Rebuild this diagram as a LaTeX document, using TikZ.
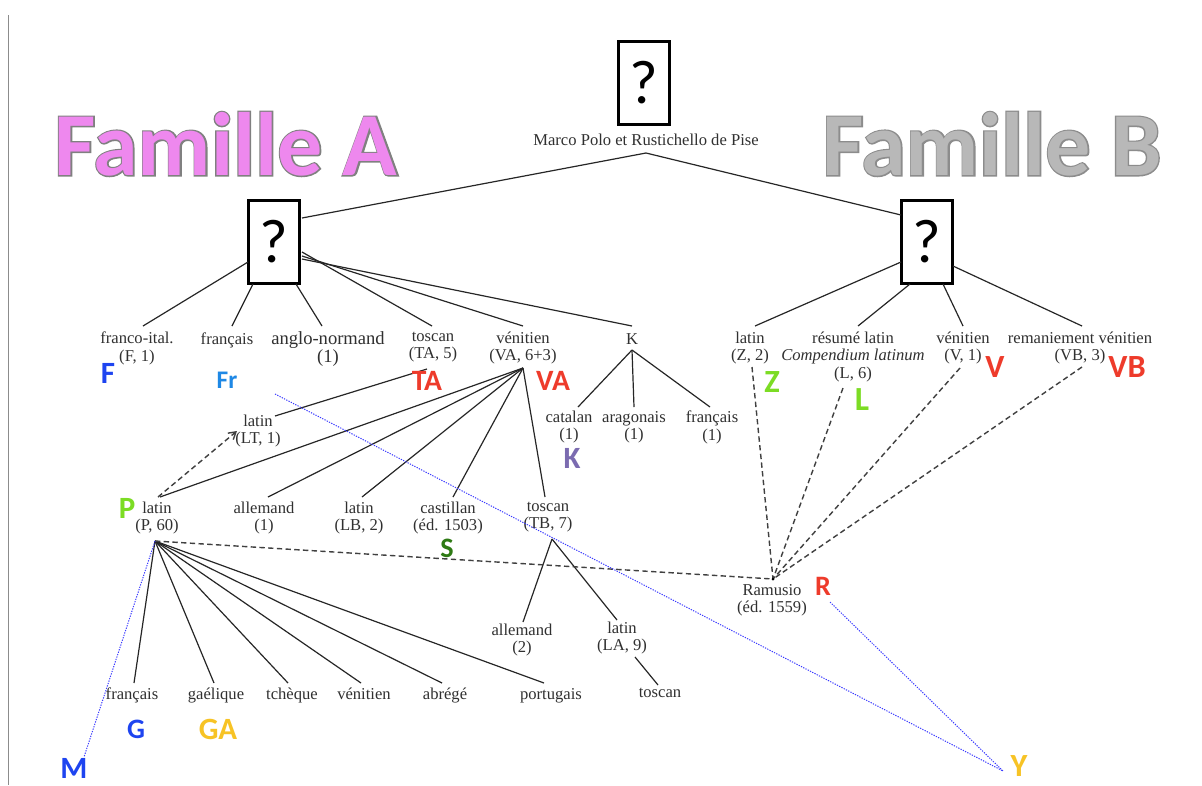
\documentclass[tikz,border=0pt]{standalone}
\usepackage{fontspec}
\setmainfont{Liberation Serif}
\newfontfamily\carl{Carlito}
\newfontfamily\carlout[FakeBold=3]{Carlito}
\usetikzlibrary{arrows.meta}
\definecolor{txt}{HTML}{303030}
\definecolor{tblue}{HTML}{1E44F0}
\definecolor{tlblue}{HTML}{1E88E5}
\definecolor{tred}{HTML}{EE3B2B}
\definecolor{tpurple}{HTML}{7B6BB0}
\definecolor{tgreen}{HTML}{7CDC24}
\definecolor{tdgreen}{HTML}{2E7A14}
\definecolor{tgold}{HTML}{F7C325}
\definecolor{famA}{HTML}{EE88EE}
\definecolor{famB}{HTML}{B8B8B8}
\definecolor{dotblue}{HTML}{3A3AFF}
\begin{document}
\begin{tikzpicture}[x=0.025cm,y=-0.025cm,
  lbl/.style={font=\fontsize{11.8}{12.2}\selectfont, align=center, inner sep=0pt, anchor=north, text=txt, execute at begin node=\strut},
  biglbl/.style={lbl, font=\fontsize{13.2}{13.2}\selectfont},
  qbox/.style={draw, line width=2pt, minimum width=1.28cm, minimum height=2.08cm, inner sep=0pt, font=\carl\fontsize{44}{44}\selectfont},
  tag/.style={font=\carl\bfseries\fontsize{#1}{#1}\selectfont, inner sep=0pt},
  tag/.default=22,
  tree/.style={line width=0.85pt, draw=black!85},
  dsh/.style={line width=1pt, draw=black!75, dash pattern=on 3.8pt off 2.4pt},
  dotl/.style={line width=0.7pt, draw=dotblue, dash pattern=on 0.9pt off 0.9pt},
  fam/.style={font=\carl\bfseries\fontsize{64}{64}\selectfont, inner sep=0pt},
  famout/.style={font=\carlout\bfseries\fontsize{64}{64}\selectfont, inner sep=0pt}
]
\useasboundingbox (0,0) rectangle (1202,785);
\fill[white] (0,0) rectangle (1202,785);
\draw[line width=1pt, draw=black!45] (8.5,15) coordinate (edgetop) -- (8.5,785) coordinate (edgebot);

% titles (gray outline behind, coloured letters on top)
\node[famout, text=gray] (famAo) at (226,144) {Famille A};
\node[fam, text=famA] (famA) at (famAo) {Famille A};
\node[famout, text=black!45] (famBo) at (992,144) {Famille B};
\node[fam, text=famB] (famB) at (famBo) {Famille B};

% boxes
\node[qbox] (q0) at (644,83) {?};
\node[lbl] (mp) at (646,133) {Marco Polo et Rustichello de Pise};
\node[qbox] (qA) at (274,242) {?};
\node[qbox] (qB) at (927,242) {?};

% row 1 labels
\node[lbl] (fi) at (137,332) {franco-ital.\\(F, 1)};
\node[lbl] (fr) at (227,332) {français};
\node[biglbl] (an) at (328,331) {anglo-normand\\(1)};
\node[lbl] (ta) at (433,332) {toscan\\(TA, 5)};
\node[lbl] (va) at (523,332) {vénitien\\(VA, 6+3)};
\node[lbl] (k) at (632,332) {K};
\node[lbl] (zl) at (750,332) {latin\\(Z, 2)};
\node[lbl] (rl) at (853,332) {résumé latin\\\textit{Compendium latinum}\\(L, 6)};
\node[lbl] (vv) at (963,332) {vénitien\\(V, 1)};
\node[lbl] (rv) at (1080,332) {remaniement vénitien\\(VB, 3)};

% K children
\node[lbl] (kc) at (569,411) {catalan\\(1)};
\node[lbl] (ka) at (634,411) {aragonais\\(1)};
\node[lbl] (kf) at (712,411) {français\\(1)};

% LT
\node[lbl] (lt) at (258,415) {latin\\(LT, 1)};

% row 2
\node[lbl] (pl) at (157,502) {latin\\(P, 60)};
\node[lbl] (al) at (264,502) {allemand\\(1)};
\node[lbl] (lb) at (359,502) {latin\\(LB, 2)};
\node[lbl] (ca) at (448,502) {castillan\\(éd. 1503)};
\node[lbl] (tb) at (548,502) {toscan\\(TB, 7)};

% Ramusio
\node[lbl] (ra) at (772,584) {Ramusio\\(éd. 1559)};

% TB children
\node[lbl] (al2) at (522,624) {allemand\\(2)};
\node[lbl] (la) at (622,622) {latin\\(LA, 9)};

% bottom row
\node[lbl] (b1) at (132,687) {français};
\node[lbl] (b2) at (216,687) {gaélique};
\node[lbl] (b3) at (292,687) {tchèque};
\node[lbl] (b4) at (364,687) {vénitien};
\node[lbl] (b5) at (445,687) {abrégé};
\node[lbl] (b6) at (551,687) {portugais};
\node[lbl] (b7) at (660,685) {toscan};

% coordinates
\coordinate (apex) at (646,153);
\coordinate (qAr) at (302,218);
\coordinate (qBl) at (901,215);
\coordinate (a1) at (248,262); \coordinate (e1) at (143,326);
\coordinate (a2) at (253,284); \coordinate (e2) at (232,326);
\coordinate (a3) at (296,284); \coordinate (e3) at (322,326);
\coordinate (a4) at (302,252); \coordinate (e4) at (432,326);
\coordinate (a5) at (302,256); \coordinate (e5) at (523,326);
\coordinate (a6) at (302,259); \coordinate (e6) at (632,326);
\coordinate (c1) at (901,262); \coordinate (f1) at (755,326);
\coordinate (c2) at (910,284); \coordinate (f2) at (858,326);
\coordinate (c3) at (943,284); \coordinate (f3) at (963,326);
\coordinate (c4) at (953,266); \coordinate (f4) at (1082,326);
\coordinate (Ko) at (632,350);
\coordinate (kc1) at (578,407); \coordinate (ka1) at (634,407); \coordinate (kf1) at (710,407);
\coordinate (TAo) at (427,369); \coordinate (LTt) at (275,416);
\coordinate (VAo) at (523,368);
\coordinate (pt) at (160,497); \coordinate (alt) at (268,497); \coordinate (lbt) at (362,497);
\coordinate (cat) at (453,497); \coordinate (tbt) at (545,497);
\coordinate (ps) at (158,497); \coordinate (ltb) at (237,431);
\coordinate (TBo) at (552,539); \coordinate (al2t) at (523,622); \coordinate (lat) at (617,620);
\coordinate (LAo) at (635,657); \coordinate (b7t) at (658,685);
\coordinate (Po) at (155,541);
\coordinate (g1) at (134,683); \coordinate (g2) at (214,683); \coordinate (g3) at (288,683);
\coordinate (g4) at (361,683); \coordinate (g5) at (442,683); \coordinate (g6) at (544,683);
\coordinate (Ram) at (773,579);
\coordinate (zs) at (752,367); \coordinate (ls) at (843,388); \coordinate (vs) at (960,368); \coordinate (vbs) at (1082,367);
\coordinate (Mp) at (84,757); \coordinate (Frp) at (275,394); \coordinate (Rp) at (830,602); \coordinate (Yp) at (1003,771);

% tree lines
\draw[tree] (apex) -- (qAr);
\draw[tree] (apex) -- (qBl);
\foreach \s/\e in {a1/e1,a2/e2,a3/e3,a4/e4,a5/e5,a6/e6,c1/f1,c2/f2,c3/f3,c4/f4,Ko/kc1,Ko/ka1,Ko/kf1,TAo/LTt,VAo/pt,VAo/alt,VAo/lbt,VAo/cat,VAo/tbt,TBo/al2t,TBo/lat,LAo/b7t,Po/g1,Po/g2,Po/g3,Po/g4,Po/g5,Po/g6}
  \draw[tree] (\s) -- (\e);
\foreach \s in {Po,zs,ls,vs,vbs}
  \draw[dsh] (\s) -- (Ram);
\draw[dsh, -{Straight Barb[length=5pt,width=6pt]}] (ps) -- (ltb);
\fill[black] (Ram) circle (1.5);

% dotted
\draw[dotl] (Po) -- (Mp);
\draw[dotl] (Frp) -- (Yp);
\draw[dotl] (Rp) -- (Yp);

% tags
\node[tag=22, text=tblue] (tF) at (108,373) {F};
\node[tag=18, text=tlblue] (tFr) at (227,380) {Fr};
\node[tag=21, text=tred] (tTA) at (427,381) {TA};
\node[tag=21, text=tred] (tVA) at (553,381) {VA};
\node[tag=22, text=tpurple] (tK) at (572,458) {K};
\node[tag=23, text=tgreen] (tZ) at (772,382) {Z};
\node[tag=24, text=tgreen] (tL) at (862,400) {L};
\node[tag=23, text=tred] (tV) at (995,367) {V};
\node[tag=23, text=tred] (tVB) at (1127,367) {VB};
\node[tag=22, text=tgreen] (tP) at (127,508) {P};
\node[tag=20, text=tdgreen] (tS) at (447,548) {S};
\node[tag=20, text=tred] (tR) at (823,586) {R};
\node[tag=20, text=tblue] (tG) at (136,729) {G};
\node[tag=22, text=tgold] (tGA) at (218,729) {GA};
\node[tag=22, text=tblue] (tM) at (74,768) {M};
\node[tag=23, text=tgold] (tY) at (1019,766) {Y};
\end{tikzpicture}
\end{document}
